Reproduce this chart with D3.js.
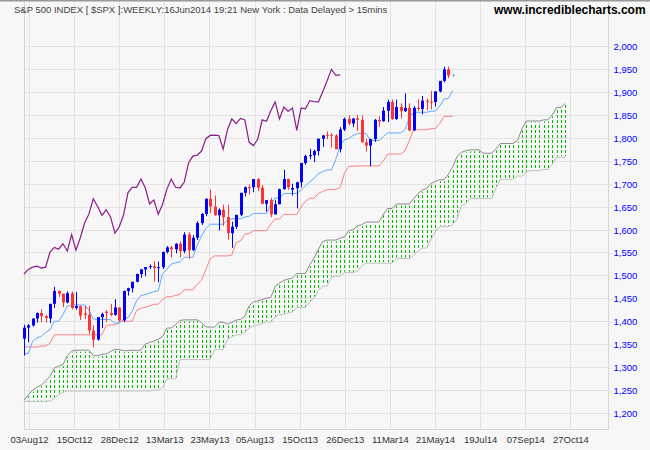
<!DOCTYPE html>
<html><head><meta charset="utf-8">
<script src="https://cdn.jsdelivr.net/npm/d3@7"></script>
<style>html,body{margin:0;padding:0;background:#f7f7f7;}svg{display:block;font-family:"Liberation Sans",Arial,sans-serif;}</style>
</head><body>
<svg id="chart" width="650" height="450"></svg>
<script>
// Weekly S&P 500 candles (bar 0 = week of 27 Jul 2012, bar 99 = 16 Jun 2014, incomplete)
const opens = [1362,1386,1391,1406,1418,1411,1406,1438,1466,1460,
 1441,1461,1429,1433,1417,1414,1380,1360,1409,1421,
 1418,1414,1430,1402,1466,1472,1486,1503,1513,1518,
 1520,1516,1518,1551,1561,1557,1569,1553,1589,1555,
 1582,1614,1634,1667,1650,1631,1643,1627,1592,1606,
 1632,1680,1692.5,1692,1710,1691,1656,1664,1633,1655,
 1688,1710,1687,1690,1703,1745,1760,1762,1771,1798,
 1806.3,1806.5,1805,1775,1818,1841,1831,1842,1839,1790,
 1783,1797,1839,1836,1859,1878,1841,1867,1858,1865,
 1816,1865,1863,1881,1878.5,1878,1901,1924,1949,1936];
const highs = [1392,1394,1406,1419,1426,1414,1438,1475,1467,1460,
 1465,1465,1464,1434,1434,1433,1391,1409,1419,1424,
 1438,1448,1431,1467,1473,1486,1504,1514,1518,1524,
 1531,1530,1552,1564,1564,1570,1574,1594,1594,1588,
 1618,1636,1668,1687,1674,1646,1654,1654,1617,1632,
 1680,1694,1698,1710,1712,1697,1664,1669,1664,1689,
 1730,1711,1700,1704,1745,1763,1776,1774,1798,1806,
 1814,1810,1808,1823,1844,1849,1843,1850,1849,1798,
 1798,1841,1847,1867,1883,1883,1883,1875,1897,1875,
 1869,1884,1891,1885,1902,1901,1924,1955,1955,1940];
const lows = [1325,1354,1388,1397,1398,1397,1396,1429,1453,1431,
 1439,1426,1425,1403,1405,1373,1343,1358,1385,1398,
 1411,1412,1398,1398,1456,1463,1485,1495,1498,1514,
 1486,1485,1514,1548,1539,1548,1539,1548,1536,1553,
 1577,1610,1629,1636,1630,1598,1608,1578,1560,1601,
 1629,1672,1676,1681,1684,1656,1639,1627,1633,1655,
 1687,1687,1674,1646,1692,1741,1753,1747,1761,1780,
 1797,1779,1775,1768,1815,1827,1823,1815,1790,1770,
 1738,1791,1824,1835,1834,1839,1839,1842,1856,1814,
 1815,1859,1851,1860,1862,1868,1899,1921,1930,1933];
const closes = [1386,1391,1406,1418,1411,1407,1438,1466,1460,1441,
 1461,1429,1433,1412,1414,1380,1360,1409,1416,1418,
 1414,1430,1402,1466,1472,1486,1503,1513,1518,1520,
 1516,1518,1551,1561,1557,1569,1553,1589,1555,1582,
 1614,1634,1667,1650,1631,1643,1627,1592,1606,1632,
 1680,1692,1692,1710,1691,1656,1664,1633,1655,1688,
 1710,1692,1690.5,1703,1745,1760,1762,1771,1798,1805,
 1805.8,1805,1775,1818,1841,1831,1842,1839,1790,1783,
 1797,1839,1836,1859,1878,1841,1867,1858,1865,1816,
 1865,1863,1881,1878.5,1878,1901,1924,1949,1936,1937];
// Ichimoku lines
const tenkan = [1329,1330,1356.5,1364,1367.5,1375.5,1381.5,1400,1400,1414.5,
 1433,1435.5,1435.5,1435.5,1435.5,1424,1405,1404,1404,1404,
 1403.5,1395.5,1395.5,1405,1408,1422,1444.5,1456,1458,1461,
 1464.5,1466.5,1504,1513.5,1524.5,1527.5,1529.5,1539.5,1539.5,1539.5,
 1566,1586,1602,1611.5,1611.5,1611.5,1611.5,1620,1623.5,1623.5,
 1623.5,1627,1629,1635,1635,1635,1635,1655.5,1668.5,1668.5,
 1678.5,1678.5,1678.5,1678.5,1686,1695,1704.5,1711,1722,1726,
 1730,1730,1753,1782,1795.5,1798,1805,1809,1809,1809,
 1794,1794,1794,1802.5,1810.5,1810.5,1810.5,1810.5,1817.5,1844,
 1855.5,1855.5,1855.5,1855.5,1858,1858,1869,1884.5,1885.5,1903];
const kijun = [1344,1344,1344,1344,1346,1346,1352,1370.5,1370.5,1370.5,
 1370.5,1370.5,1370.5,1370.5,1370.5,1370.5,1370.5,1370.5,1370.5,1391,
 1392,1392,1400,1400,1400,1400,1423.5,1428.5,1430.5,1433.5,
 1437,1437,1447.5,1453.5,1453.5,1456.5,1458.5,1468.5,1468.5,1468.5,
 1480.5,1489.5,1513,1536,1542.5,1542.5,1542.5,1542.5,1544.5,1571.5,
 1575,1589.5,1591.5,1597.5,1597.5,1597.5,1597.5,1612,1623,1623,
 1633,1633,1633,1633,1649,1661.5,1668,1668,1679,1683,
 1687,1687,1687,1691.5,1722.5,1738,1738,1738.5,1738.5,1738.5,
 1738.5,1738.5,1738.5,1750,1764.5,1764.5,1764.5,1764.5,1771.5,1794.5,
 1817.5,1817.5,1817.5,1817.5,1820,1820,1831,1846.5,1846.5,1846.5];
// Cloud, as plotted (index 0..125, extends 26 weeks past the last bar)
const spanA = [1228,1240,1250,1256,1261,1270,1280,1298,1302,1306,
 1325,1335,1337,1337,1337,1337,1325,1325,1328,1329,
 1334,1339,1338,1336,1336,1337,
 1336.5,1337,1350.25,1354,1356.75,1360.75,1366.75,1385.25,1385.25,1392.5,
 1401.75,1403,1403,1403,1403,1397.25,1387.75,1387.25,1387.25,1397.5,
 1397.75,1393.75,1397.75,1402.5,1404,1411,1434,1442.25,1444.25,1447.25,
 1450.75,1451.75,1475.75,1483.5,1489,1492,1494,1504,1504,1504,
 1523.25,1537.75,1557.5,1573.75,1577,1577,1577,1581.25,1584,1597.5,
 1599.25,1608.25,1610.25,1616.25,1616.25,1616.25,1616.25,1633.75,1645.75,1645.75,
 1655.75,1655.75,1655.75,1655.75,1667.5,1678.25,1686.25,1689.5,1700.5,1704.5,
 1708.5,1708.5,1720,1736.75,1759,1768,1771.5,1773.75,1773.75,1773.75,
 1766.25,1766.25,1766.25,1776.25,1787.5,1787.5,1787.5,1787.5,1794.5,1819.25,
 1836.5,1836.5,1836.5,1836.5,1839,1839,1850,1865.5,1866,1874.75];
const spanB = [1225,1225,1225,1225,1225,1225,1226,1232,1240,1245,
 1248,1248,1248,1248,1248,1248,1248,1248,1248,1248,
 1248,1248,1248,1248,1248,1248,
 1248,1248,1248,1248,1250,1250,1256,1274.5,1274.5,1274.5,
 1316.5,1316.5,1316.5,1316.5,1316.5,1316.5,1316.5,1317,1338.5,1338.5,
 1338.5,1361.5,1366,1370.5,1370.5,1376,1385,1390,1392,1395,
 1398.5,1398.5,1409,1415,1415,1418,1420,1430,1430,1430,
 1442,1451,1467,1476.5,1476.5,1497,1498,1498,1506,1506,
 1506,1509.5,1520.5,1526.5,1526.5,1526.5,1526.5,1526.5,1526.5,1526.5,
 1536.5,1536.5,1536.5,1536.5,1544,1553,1559.5,1559.5,1578,1595.5,
 1606,1606,1606,1610.5,1623,1652.5,1656,1667.5,1667.5,1667.5,
 1667.5,1667.5,1667.5,1690.5,1709.5,1709.5,1709.5,1709.5,1716.5,1716.5,
 1725,1728.5,1728.5,1728.5,1731,1731,1742,1757.5,1757.5,1757.5];
const CHIKOU_SHIFT = 26;
const yTicks = [1200,1250,1300,1350,1400,1450,1500,1550,1600,1650,1700,1750,1800,1850,1900,1950,2000];
const xTickLabels = ["03Aug12","15Oct12","28Dec12","13Mar13","23May13","05Aug13","15Oct13","26Dec13","11Mar14","21May14","19Jul14","07Sep14","27Oct14"];
const X_TICK_FIRST = 1.15, X_TICK_STEP = 10.42; // in bars
const titleText = "S&P 500 INDEX [ $SPX ]:WEEKLY:16Jun2014 19:21 New York : Data Delayed > 15mins";
const siteText = "www.incrediblecharts.com";

const svg = d3.select("#chart");
const plotL = 24.5, plotR = 608.5, plotT = 0, plotB = 429.5;
const x = d3.scaleLinear().domain([0, 134.87]).range([24, 608]);
const y = d3.scaleLinear().domain([1200, 2000]).range([413, 46]);
const px = v => Math.round(v) + 0.5;

svg.append("rect").attr("width", 650).attr("height", 450).attr("fill", "#f7f7f7");

// grid
const xTickPos = xTickLabels.map((d, k) => X_TICK_FIRST + k * X_TICK_STEP);
const grid = svg.append("g").attr("stroke", "#e3e3e3").attr("stroke-width", 1);
grid.selectAll("line.h").data(yTicks).join("line").attr("class", "h")
  .attr("x1", plotL).attr("x2", plotR).attr("y1", d => px(y(d))).attr("y2", d => px(y(d)));
grid.selectAll("line.v").data(xTickPos).join("line").attr("class", "v")
  .attr("x1", d => px(x(d))).attr("x2", d => px(x(d))).attr("y1", plotT).attr("y2", plotB);
// frame
const frame = svg.append("g").attr("stroke", "#d6d6d6").attr("fill", "none");
frame.append("line").attr("x1", plotL).attr("x2", plotL).attr("y1", 0).attr("y2", plotB);
frame.append("line").attr("x1", plotL).attr("x2", plotR).attr("y1", plotB).attr("y2", plotB);
frame.append("line").attr("x1", plotR).attr("x2", plotR).attr("y1", 0).attr("y2", plotB);

// cloud fill: dashed verticals
const PERIOD = 5;
const cloudIdx = d3.range(spanA.length);
svg.append("g").attr("stroke", "#00c000").attr("stroke-width", 1).attr("stroke-dasharray", "3,2")
  .selectAll("line").data(cloudIdx.filter(i => i > 0)).join("line")
  .attr("x1", i => px(x(i))).attr("x2", i => px(x(i)))
  .attr("y1", i => Math.min(y(spanA[i]), y(spanB[i])) + 1.5)
  .attr("y2", i => Math.max(y(spanA[i]), y(spanB[i])) - 1)
  .attr("stroke-dashoffset", i => ((Math.min(y(spanA[i]), y(spanB[i])) + 1.5) % PERIOD));

const line = arr => d3.line().x(i => x(i)).y(i => y(arr[i]));
svg.append("path").attr("d", line(spanB)(cloudIdx)).attr("fill", "none").attr("stroke", "#c0c0c0").attr("stroke-width", 1);
svg.append("path").attr("d", line(spanA)(cloudIdx)).attr("fill", "none").attr("stroke", "#8a8a8a").attr("stroke-width", 1);

// chikou
const chIdx = d3.range(closes.length - CHIKOU_SHIFT);
svg.append("path").attr("d", d3.line().x(j => x(j)).y(j => y(closes[j + CHIKOU_SHIFT]))(chIdx))
  .attr("fill", "none").attr("stroke", "#8b1a8b").attr("stroke-width", 1.2);

const barIdx = d3.range(closes.length);
svg.append("path").attr("d", line(kijun)(barIdx)).attr("fill", "none").attr("stroke", "#ff8080").attr("stroke-width", 1);
svg.append("path").attr("d", line(tenkan)(barIdx)).attr("fill", "none").attr("stroke", "#5eaaff").attr("stroke-width", 1);

// candles
const last = closes.length - 1;
const col = i => i === last ? "#a4a4e6" : (closes[i] >= opens[i] ? "#0000ff" : "#ff3333");
const cg = svg.append("g").selectAll("g").data(barIdx).join("g");
cg.append("line")
  .attr("x1", i => px(x(i))).attr("x2", i => px(x(i)))
  .attr("y1", i => y(highs[i])).attr("y2", i => y(lows[i]))
  .attr("stroke", col).attr("stroke-width", 1);
cg.append("rect")
  .attr("x", i => Math.round(x(i)) - 1)
  .attr("width", 3)
  .attr("y", i => y(Math.max(opens[i], closes[i])))
  .attr("height", i => Math.max(1, Math.abs(y(opens[i]) - y(closes[i]))))
  .attr("fill", col);

// axes
const yAxis = d3.axisRight(y).tickValues(yTicks).tickFormat(d3.format(",")).tickSize(4).tickPadding(1);
const ya = svg.append("g").attr("transform", `translate(${plotR},0.5)`).call(yAxis);
ya.select(".domain").remove();
ya.selectAll("line").attr("stroke", "#e3e3e3");
ya.selectAll("text").attr("fill", "#0000ff").style("font-size", "9.5px").style("font-family", "'Liberation Sans',Arial,sans-serif");

const xAxis = d3.axisBottom(x).tickValues(xTickPos).tickFormat((d, k) => xTickLabels[k]).tickSize(0).tickPadding(7);
const xa = svg.append("g").attr("transform", `translate(0,${plotB})`).call(xAxis);
xa.select(".domain").remove();
xa.selectAll("text").attr("fill", "#333").style("font-size", "9.5px").style("font-family", "'Liberation Sans',Arial,sans-serif");

// top bar and titles
svg.append("rect").attr("x", 0).attr("y", 0).attr("width", 650).attr("height", 1.5).attr("fill", "#9a9a9a");
svg.append("text").attr("x", 14).attr("y", 13).attr("fill", "#444").style("font-size", "9.5px").text(titleText);
svg.append("text").attr("x", 494).attr("y", 14).attr("fill", "#000").style("font-size", "12px").style("font-weight", "bold").text(siteText);
</script>
</body></html>
